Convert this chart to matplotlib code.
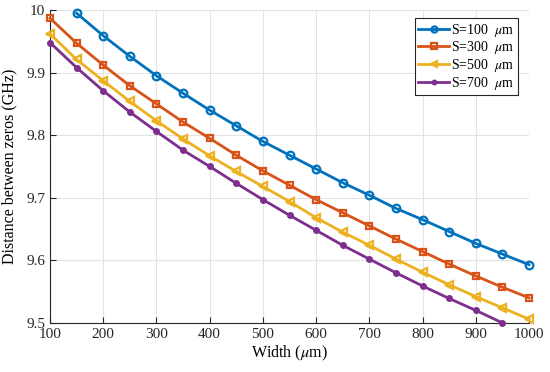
import numpy as np
import matplotlib
matplotlib.use('Agg')
import matplotlib.pyplot as plt

plt.rcParams['font.family'] = ['Liberation Serif', 'DejaVu Serif']
plt.rcParams['mathtext.fontset'] = 'stix'

width = [100, 150, 200, 250, 300, 350, 400, 450, 500, 550,
         600, 650, 700, 750, 800, 850, 900, 950, 1000]

s100 = [np.nan, 9.995, 9.959, 9.926, 9.895, 9.867, 9.840, 9.815, 9.790, 9.768,
        9.746, 9.724, 9.704, 9.683, 9.665, 9.646, 9.627, 9.610, 9.593]
s300 = [9.987, 9.947, 9.912, 9.879, 9.850, 9.821, 9.795, 9.768, 9.743, 9.720,
        9.697, 9.676, 9.655, 9.634, 9.614, 9.594, 9.575, 9.557, 9.540]
s500 = [9.962, 9.921, 9.887, 9.854, 9.823, 9.794, 9.767, 9.742, 9.718, 9.694,
        9.668, 9.645, 9.624, 9.602, 9.581, 9.561, 9.542, 9.524, 9.506]
s700 = [9.948, 9.908, 9.871, 9.837, 9.806, 9.776, 9.750, 9.723, 9.697, 9.672,
        9.648, 9.624, 9.602, 9.580, 9.559, 9.539, 9.520, 9.500, np.nan]

fig = plt.figure(figsize=(5.5, 3.72), dpi=100)
ax = fig.add_axes([0.0909, 0.132, 0.871, 0.841])

style = dict(lw=2, mew=1.6, mfc='none', clip_on=False, zorder=5)
ax.plot(width, s100, color='#0072BD', marker='o', ms=5.5, label=r'S=100 $\ \mu$m', **style)
ax.plot(width, s300, color='#D95319', marker='s', ms=4.8, label=r'S=300 $\ \mu$m', **style)
ax.plot(width, s500, color='#EDB120', marker='<', ms=6, label=r'S=500 $\ \mu$m', **style)
ax.plot(width, s700, color='#7E2F8E', marker='o', ms=4, lw=2, mew=1, clip_on=False, zorder=5,
        label=r'S=700 $\ \mu$m')

ax.set_xlim(100, 1000)
ax.set_ylim(9.5, 10)
ax.set_xticks(np.arange(100, 1001, 100))
ax.set_yticks(np.arange(9.5, 10.01, 0.1))
ax.set_yticklabels(['9.5', '9.6', '9.7', '9.8', '9.9', '10'])
ax.grid(True, color='#e3e3e3', lw=0.8)
ax.set_axisbelow(True)
for side in ['top', 'right']:
    ax.spines[side].set_visible(False)
for side in ['left', 'bottom']:
    ax.spines[side].set_color('#262626')
ax.tick_params(labelsize=11, direction='in', length=4, colors='#262626')
ax.set_xlabel(r'Width ($\mu$m)', fontsize=11.5, labelpad=2)
ax.set_ylabel('Distance between zeros (GHz)', fontsize=11.5, labelpad=6)

leg = ax.legend(loc='upper right', bbox_to_anchor=(0.982, 0.983), fontsize=10, fancybox=False,
                framealpha=1, edgecolor='#262626', handlelength=2.2, handletextpad=0.15,
                borderpad=0.25, labelspacing=0.05, borderaxespad=0.2, markerscale=0.8)
leg.get_frame().set_linewidth(0.8)

plt.savefig('out.png', dpi=100)
